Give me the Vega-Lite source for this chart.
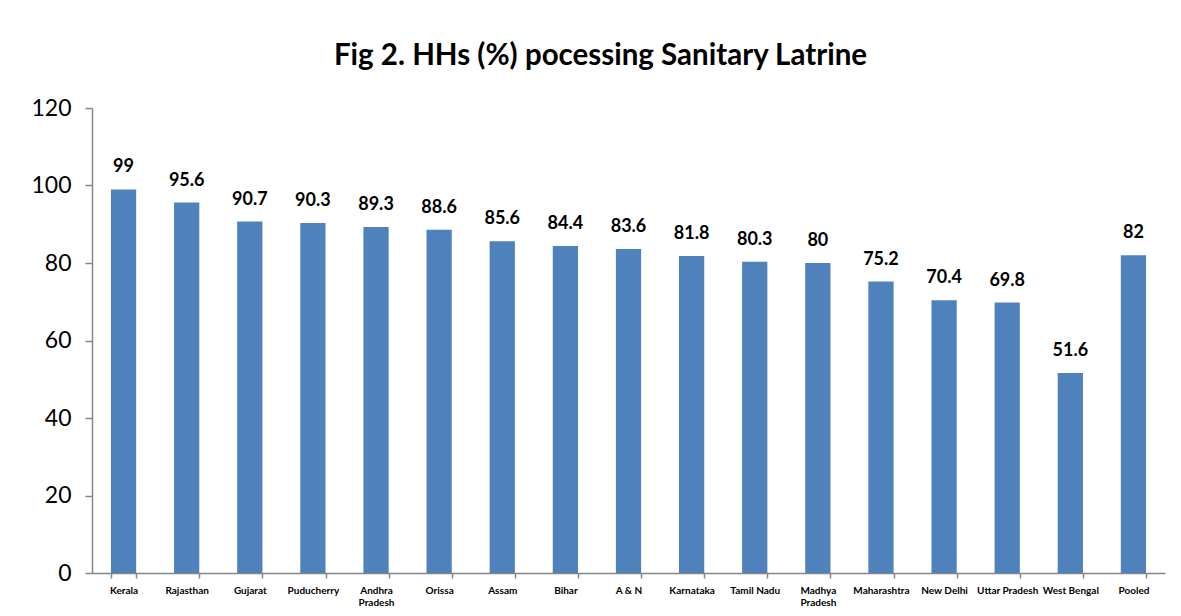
{
  "$schema": "https://vega.github.io/schema/vega-lite/v6.json",
  "autosize": {"type": "none"},
  "width": 1073,
  "height": 465,
  "padding": {"left": 92, "top": 108, "right": 16, "bottom": 43},
  "background": "white",
  "title": {
    "text": "Fig 2. HHs (%) pocessing Sanitary Latrine",
    "font": "Lato",
    "fontSize": 29.5,
    "fontWeight": "bold",
    "color": "#000000",
    "anchor": "middle",
    "dx": -28,
    "offset": 26
  },
  "data": {
    "values": [
      {"state": "Kerala", "pct": 99},
      {"state": "Rajasthan", "pct": 95.6},
      {"state": "Gujarat", "pct": 90.7},
      {"state": "Puducherry", "pct": 90.3},
      {"state": "Andhra Pradesh", "pct": 89.3},
      {"state": "Orissa", "pct": 88.6},
      {"state": "Assam", "pct": 85.6},
      {"state": "Bihar", "pct": 84.4},
      {"state": "A & N", "pct": 83.6},
      {"state": "Karnataka", "pct": 81.8},
      {"state": "Tamil Nadu", "pct": 80.3},
      {"state": "Madhya Pradesh", "pct": 80},
      {"state": "Maharashtra", "pct": 75.2},
      {"state": "New Delhi", "pct": 70.4},
      {"state": "Uttar Pradesh", "pct": 69.8},
      {"state": "West Bengal", "pct": 51.6},
      {"state": "Pooled", "pct": 82}
    ]
  },
  "encoding": {
    "x": {
      "field": "state",
      "type": "nominal",
      "sort": null,
      "scale": {"paddingInner": 0.6, "paddingOuter": 0.3},
      "axis": {
        "title": null,
        "labelAngle": 0,
        "labelFont": "Lato",
        "labelFontSize": 10,
        "labelFontWeight": "bold",
        "labelColor": "#000000",
        "labelPadding": 7,
        "labelLineHeight": 12,
        "labelBaseline": "top",
        "domainColor": "#868686",
        "domainWidth": 1.5,
        "tickColor": "#868686",
        "tickBand": "extent",
        "tickSize": 5,
        "tickWidth": 1.5,
        "grid": false,
        "labelExpr": "(datum.label == 'Andhra Pradesh' || datum.label == 'Madhya Pradesh') ? split(datum.label, ' ') : datum.label"
      }
    },
    "y": {
      "field": "pct",
      "type": "quantitative",
      "scale": {"domain": [0, 120]},
      "axis": {
        "title": null,
        "values": [0, 20, 40, 60, 80, 100, 120],
        "labelFont": "Lato",
        "labelFontSize": 23,
        "labelColor": "#000000",
        "labelPadding": 14,
        "domainColor": "#868686",
        "domainWidth": 1.5,
        "tickColor": "#868686",
        "tickSize": 7,
        "tickWidth": 1.5,
        "grid": false
      }
    }
  },
  "layer": [
    {"mark": {"type": "bar", "color": "#4F81BD"}},
    {
      "mark": {"type": "text", "font": "Lato", "fontSize": 18, "fontWeight": "bold", "color": "#000000", "baseline": "alphabetic", "dy": -17},
      "encoding": {"text": {"field": "pct", "type": "nominal"}}
    }
  ],
  "config": {"view": {"stroke": null}}
}
